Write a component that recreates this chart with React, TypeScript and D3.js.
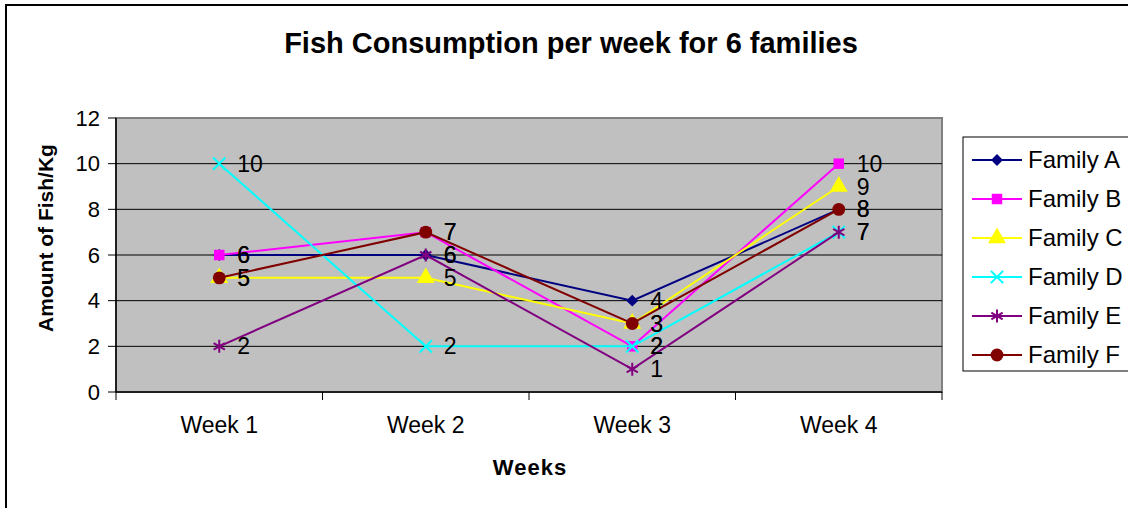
import * as d3 from 'd3';

const WEEKS = ['Week 1', 'Week 2', 'Week 3', 'Week 4'];
const FAMILIES = ['Family A', 'Family B', 'Family C', 'Family D', 'Family E', 'Family F'];
const FAMILY_A = [6, 6, 4, 8];
const FAMILY_B = [6, 7, 2, 10];
const FAMILY_C = [5, 5, 3, 9];
const FAMILY_D = [10, 2, 2, 7];
const FAMILY_E = [2, 6, 1, 7];
const FAMILY_F = [5, 7, 3, 8];
const Y_TICKS = [0, 2, 4, 6, 8, 10, 12];

const SERIES_VALUES = [FAMILY_A, FAMILY_B, FAMILY_C, FAMILY_D, FAMILY_E, FAMILY_F];
const COLORS = ['#000080', '#ff00ff', '#ffff00', '#00ffff', '#800080', '#800000'];
const SYMBOLS = [
  d3.symbolDiamond2,
  d3.symbolSquare,
  d3.symbolTriangle,
  d3.symbolX,
  d3.symbolAsterisk,
  d3.symbolCircle,
];
const SYMBOL_SIZES = [90, 110, 140, 100, 120, 130];
const STROKE_SYMBOLS = [false, false, false, true, true, false];

const FONT = 'Arial, "Liberation Sans", sans-serif';

const width = 1128;
const height = 508;
const plot = { left: 116, right: 942, top: 118, bottom: 392 };

function Marker({ i, x, y }: { i: number; x: number; y: number }) {
  const path = d3.symbol(SYMBOLS[i], SYMBOL_SIZES[i])() ?? '';
  const stroke = STROKE_SYMBOLS[i];
  return (
    <path
      d={path}
      transform={`translate(${x},${y})`}
      fill={stroke ? 'none' : COLORS[i]}
      stroke={COLORS[i]}
      strokeWidth={stroke ? 2 : 0}
    />
  );
}

export default function App() {
  const x = d3.scaleBand<string>().domain(WEEKS).range([plot.left, plot.right]);
  const y = d3.scaleLinear().domain([0, 12]).range([plot.bottom, plot.top]);
  const cx = (w: string) => (x(w) ?? 0) + x.bandwidth() / 2;
  const line = d3
    .line<number>()
    .x((_, i) => cx(WEEKS[i]))
    .y((d) => y(d));

  const boundaries = [...WEEKS.map((w) => x(w) ?? 0), plot.right];

  const legendTop = 160;
  const legendStep = 39;

  return (
    <svg
      width={width}
      height={height}
      style={{ position: 'absolute', left: 0, top: 0, background: '#fff' }}
      fontFamily={FONT}
    >
      <rect x={0} y={0} width={width} height={height} fill="#fff" />
      <rect x={6} y={5} width={1140} height={520} fill="none" stroke="#000" strokeWidth={2} />

      <text x={571} y={53} textAnchor="middle" fontSize={29} fontWeight="bold">
        Fish Consumption per week for 6 families
      </text>

      {/* plot area */}
      <rect
        x={plot.left}
        y={plot.top}
        width={plot.right - plot.left}
        height={plot.bottom - plot.top}
        fill="#c0c0c0"
        stroke="#808080"
        strokeWidth={2}
      />
      {Y_TICKS.filter((t) => t > 0 && t < 12).map((t) => (
        <line key={t} x1={plot.left} x2={plot.right} y1={y(t)} y2={y(t)} stroke="#000" strokeWidth={1} />
      ))}
      <line x1={plot.left} x2={plot.left} y1={plot.top} y2={plot.bottom} stroke="#000" strokeWidth={1.5} />
      <line x1={plot.left} x2={plot.right} y1={plot.bottom} y2={plot.bottom} stroke="#000" strokeWidth={1.5} />

      {Y_TICKS.map((t) => (
        <g key={t}>
          <line x1={plot.left - 8} x2={plot.left} y1={y(t)} y2={y(t)} stroke="#000" />
          <text x={100} y={y(t)} dy="0.35em" textAnchor="end" fontSize={22}>
            {t}
          </text>
        </g>
      ))}
      {boundaries.map((b, i) => (
        <line key={i} x1={b} x2={b} y1={plot.bottom} y2={plot.bottom + 8} stroke="#000" />
      ))}
      {WEEKS.map((w) => (
        <text key={w} x={cx(w)} y={433} textAnchor="middle" fontSize={23}>
          {w}
        </text>
      ))}

      <text x={530} y={475} textAnchor="middle" fontSize={22} fontWeight="bold" letterSpacing={1}>
        Weeks
      </text>
      <text
        transform="translate(53,238) rotate(-90)"
        textAnchor="middle"
        fontSize={21}
        fontWeight="bold"
      >
        Amount of Fish/Kg
      </text>

      {/* series */}
      {SERIES_VALUES.map((vals, i) => (
        <g key={FAMILIES[i]}>
          <path d={line(vals) ?? ''} fill="none" stroke={COLORS[i]} strokeWidth={2} />
          {vals.map((v, j) => (
            <Marker key={j} i={i} x={cx(WEEKS[j])} y={y(v)} />
          ))}
        </g>
      ))}

      {/* data labels */}
      {SERIES_VALUES.map((vals, i) =>
        vals.map((v, j) => (
          <text
            key={`${i}-${j}`}
            x={cx(WEEKS[j]) + 18}
            y={y(v)}
            dy="0.35em"
            fontSize={23}
          >
            {v}
          </text>
        )),
      )}

      {/* legend */}
      <rect x={963} y={137} width={200} height={234} fill="#fff" stroke="#000" strokeWidth={1} />
      {FAMILIES.map((f, i) => {
        const ly = legendTop + i * legendStep;
        return (
          <g key={f}>
            <line x1={972} x2={1022} y1={ly} y2={ly} stroke={COLORS[i]} strokeWidth={2} />
            <Marker i={i} x={997} y={ly} />
            <text x={1028} y={ly} dy="0.35em" fontSize={24}>
              {f}
            </text>
          </g>
        );
      })}
    </svg>
  );
}
